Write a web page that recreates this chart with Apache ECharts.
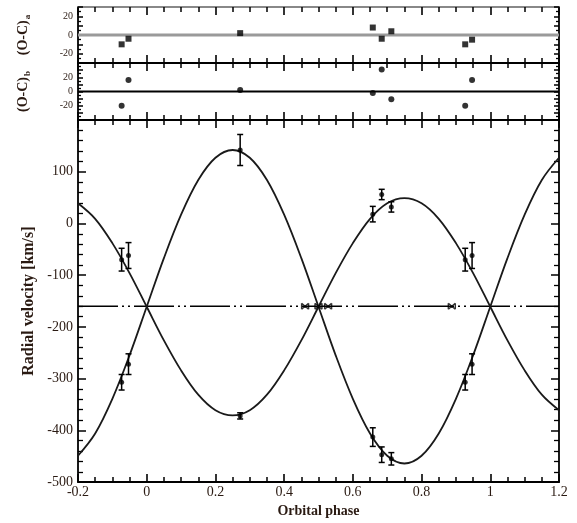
<!DOCTYPE html>
<html>
<head>
<meta charset="utf-8">
<script src="https://cdn.jsdelivr.net/npm/echarts@6/dist/echarts.min.js"></script>
<style>
html,body{margin:0;padding:0;background:#fff;}
#c{width:577px;height:523px;}
</style>
</head>
<body>
<div id="c"></div>
<script>
// ---- data ----
const modelPhase = [-0.2,-0.15,-0.1,-0.05,0,0.05,0.1,0.15,0.2,0.25,0.3,0.35,0.4,0.45,0.5,0.55,0.6,0.65,0.7,0.75,0.8,0.85,0.9,0.95,1.0,1.05,1.1,1.15,1.2];
const modelA = [-449,-406,-339,-255,-161,-67,17,84,127,142,127,84,17,-67,-161,-255,-339,-406,-449,-464,-449,-406,-339,-255,-161,-67,17,84,127];
const modelB = [39,9,-38,-96,-161,-226,-284,-331,-361,-371,-361,-331,-284,-226,-161,-96,-38,9,39,49,39,9,-38,-96,-161,-226,-284,-331,-361];

const obsPhase = [-0.073,-0.053,0.272,0.658,0.684,0.712,0.927,0.947];
const rvA  = [-307,-272,142,-413,-447,-455,-307,-272];
const errA = [15,20,30,18,15,12,15,20];
const rvB  = [-70,-62,-372,18,56,32,-70,-62];
const errB = [22,25,6,15,10,10,22,25];
const resA = [-10,-4,2,8,-4,4,-10,-5];
const resB = [-20,16,2,-2,31,-11,-20,16];

const blendPhase = [0.461,0.5,0.528,0.888];
const gamma = -160;

const xTicks = {min:-0.2, max:1.2, interval:0.2};
const mainY = {min:-500, max:200, interval:100};
const panelAY = {min:-30, max:30, interval:10};
const panelBY = {min:-40, max:40, interval:10};

// ---- chart ----
const FONT = 'Liberation Serif';
const TXT = '#2a1a12';
const chart = echarts.init(document.getElementById('c'), null, {renderer:'canvas'});

const grids = [
  {left:78, right:18, top:7, height:56},
  {left:78, right:18, top:63, height:57},
  {left:78, right:18, top:120, height:369}
];

function xAxes(gi, showLabels, lineColorTop){
  const base = {
    type:'value', gridIndex:gi, min:xTicks.min, max:xTicks.max, interval:xTicks.interval,
    splitLine:{show:false},
    axisTick:{show:true, inside:true, length:8, lineStyle:{color:'#000', width:1.6}},
    minorTick:{show:true, splitNumber:4, length:5, lineStyle:{color:'#000', width:1.5}},
    axisLine:{show:true, onZero:false, lineStyle:{color:'#000', width:1.8}}
  };
  return [
    Object.assign({}, base, {position:'bottom',
      axisLabel:{show:showLabels, fontFamily:FONT, fontSize:14, color:TXT, margin:3,
        formatter:v=>String(Math.round(v*10)/10)},
      name: showLabels ? 'Orbital phase' : '', nameLocation:'middle', nameGap:19,
      nameTextStyle:{fontFamily:FONT, fontSize:14, fontWeight:'bold', color:TXT}}),
    Object.assign({}, base, {position:'top', axisLabel:{show:false},
      axisLine:{show:true, onZero:false, lineStyle:{color:lineColorTop||'#000', width:1.8}}})
  ];
}

function yAxes(gi, rng, opts){
  const base = {
    type:'value', gridIndex:gi, min:rng.min, max:rng.max, interval:rng.interval,
    splitLine:{show:false},
    axisTick:{show:true, inside:true, length:opts.tick, lineStyle:{color:'#000', width:1.5}},
    minorTick:{show:true, splitNumber:opts.minor, length:opts.minorLen, lineStyle:{color:'#000', width:1.3}},
    axisLine:{show:true, onZero:false, lineStyle:{color:'#000', width:1.8}}
  };
  return [
    Object.assign({}, base, {position:'left',
      axisLabel:{show:true, fontFamily:FONT, fontSize:opts.fs, color:TXT, margin:5,
        showMaxLabel:opts.showMax, formatter:opts.fmt},
      name:opts.name, nameLocation:'middle', nameGap:opts.gap, nameRotate:90,
      nameTextStyle:{fontFamily:FONT, fontSize:opts.nfs, fontWeight:'bold', color:TXT,
        rich:{sub:{fontFamily:FONT, fontSize:9, fontWeight:'bold', color:TXT, padding:[9,0,0,1]}}}}),
    Object.assign({}, base, {position:'right', axisLabel:{show:false}})
  ];
}

const panelFmt = v => (Math.abs(v)%20===0 && Math.abs(v)<30) ? String(v) : '';

const xAxis = [].concat(xAxes(0,false,'#888'), xAxes(1,false), xAxes(2,true));
const yAxis = [].concat(
  yAxes(0, panelAY, {tick:5, minor:2, minorLen:3, fs:10, showMax:false, fmt:panelFmt,
    name:'(O-C){sub|a}', gap:46, nfs:14}),
  yAxes(1, panelBY, {tick:5, minor:2, minorLen:3, fs:10, showMax:false, fmt:panelFmt,
    name:'(O-C){sub|b}', gap:46, nfs:14}),
  yAxes(2, mainY, {tick:8, minor:5, minorLen:5, fs:14, showMax:false, fmt:v=>String(v),
    name:'Radial velocity [km/s]', gap:34, nfs:16})
);

function zip(xs, ys){ return xs.map((x,i)=>[x, ys[i]]); }

function errSeries(ys, errs, axis){
  return {
    type:'custom', xAxisIndex:axis, yAxisIndex:axis, z:4,
    data: obsPhase.map((x,i)=>[x, ys[i]-errs[i], ys[i]+errs[i]]),
    encode:{x:0, y:[1,2]},
    renderItem:function(params, api){
      const x = api.value(0);
      const lo = api.coord([x, api.value(1)]);
      const hi = api.coord([x, api.value(2)]);
      const w = 3;
      const st = {stroke:'#000', lineWidth:1.5};
      return {type:'group', children:[
        {type:'line', shape:{x1:lo[0], y1:lo[1], x2:hi[0], y2:hi[1]}, style:st},
        {type:'line', shape:{x1:lo[0]-w, y1:lo[1], x2:lo[0]+w, y2:lo[1]}, style:st},
        {type:'line', shape:{x1:hi[0]-w, y1:hi[1], x2:hi[0]+w, y2:hi[1]}, style:st}
      ]};
    }
  };
}

const series = [
  {type:'line', xAxisIndex:0, yAxisIndex:0, data:[[xTicks.min,0],[xTicks.max,0]],
   symbol:'none', lineStyle:{color:'#9a9a9a', width:3}, silent:true, z:2},
  {type:'scatter', xAxisIndex:0, yAxisIndex:0, data:zip(obsPhase,resA),
   symbol:'rect', symbolSize:6, itemStyle:{color:'#000'}, z:5},
  {type:'line', xAxisIndex:2, yAxisIndex:2, data:[[xTicks.min,0],[xTicks.max,0]],
   symbol:'none', lineStyle:{color:'#000', width:1.8}, silent:true, z:2},
  {type:'scatter', xAxisIndex:2, yAxisIndex:2, data:zip(obsPhase,resB),
   symbol:'circle', symbolSize:6, itemStyle:{color:'#000'}, z:5},
  {type:'line', xAxisIndex:4, yAxisIndex:4, data:[[xTicks.min,gamma],[xTicks.max,gamma]],
   symbol:'none', lineStyle:{color:'#000', width:1.6, type:[40,4,2,4,2,4]}, silent:true, z:2},
  {type:'line', xAxisIndex:4, yAxisIndex:4, data:zip(modelPhase,modelA), smooth:0.35,
   symbol:'none', lineStyle:{color:'#1a1a1a', width:1.8}, z:3},
  {type:'line', xAxisIndex:4, yAxisIndex:4, data:zip(modelPhase,modelB), smooth:0.35,
   symbol:'none', lineStyle:{color:'#1a1a1a', width:1.8}, z:3},
  errSeries(rvA, errA, 4),
  errSeries(rvB, errB, 4),
  {type:'scatter', xAxisIndex:4, yAxisIndex:4, data:zip(obsPhase,rvA),
   symbol:'circle', symbolSize:5, itemStyle:{color:'#000'}, z:5},
  {type:'scatter', xAxisIndex:4, yAxisIndex:4, data:zip(obsPhase,rvB),
   symbol:'circle', symbolSize:5, itemStyle:{color:'#000'}, z:5},
  {type:'scatter', xAxisIndex:4, yAxisIndex:4, data:blendPhase.map(p=>[p,gamma]),
   symbol:'path://M0,0L10,10M10,0L0,10M0,0L0,10M10,0L10,10', symbolSize:[7,6],
   itemStyle:{color:'none', borderColor:'#000', borderWidth:1.3}, z:5}
];

chart.setOption({
  animation:false,
  backgroundColor:'#fff',
  grid:grids,
  xAxis:xAxis,
  yAxis:yAxis,
  series:series
});
</script>
</body>
</html>
